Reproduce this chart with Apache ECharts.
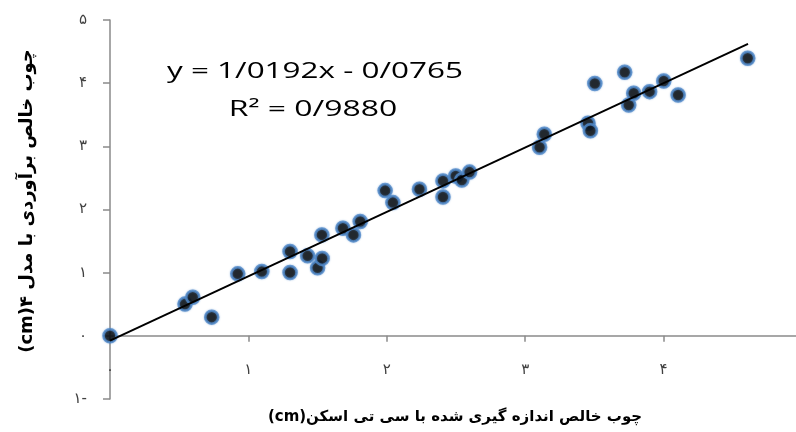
<!DOCTYPE html>
<html>
<head>
<meta charset="utf-8">
<script src="https://cdn.jsdelivr.net/npm/echarts@6/dist/echarts.min.js"></script>
<style>html,body{margin:0;padding:0;background:#fff}#c{width:796px;height:432px}</style>
</head>
<body>
<div id="c"></div>
<script>
// Measured (CT scan) net wood, cm
const measuredX = [0, 0.542, 0.598, 0.735, 0.923, 1.097, 1.301, 1.301, 1.428, 1.500, 1.531, 1.533, 1.683, 1.759, 1.808, 1.988, 2.044, 2.236, 2.406, 2.406, 2.498, 2.542, 2.598, 3.104, 3.138, 3.454, 3.471, 3.503, 3.719, 3.748, 3.784, 3.899, 4.001, 4.105, 4.608];
// Estimated net wood with model 4, cm
const predictedY = [0, 0.502, 0.612, 0.296, 0.981, 1.017, 1.002, 1.334, 1.266, 1.076, 1.598, 1.226, 1.704, 1.598, 1.809, 2.299, 2.109, 2.321, 2.453, 2.199, 2.532, 2.468, 2.592, 2.986, 3.191, 3.366, 3.248, 3.995, 4.172, 3.655, 3.840, 3.866, 4.035, 3.813, 4.394];
// Trendline end points
const trendX = [0, 4.61];
const trendY = [-0.077, 4.622];
// Tick labels
const xTickValues = [0, 1, 2, 3, 4, 5];
const xTickLabels = ['۰', '۱', '۲', '۳', '۴', '۵'];
const yTickValues = [-1, 0, 1, 2, 3, 4, 5];
const yTickLabels = ['۱-', '۰', '۱', '۲', '۳', '۴', '۵'];
// Texts
const equationText = 'y = 1/0192x - 0/0765';
const r2Text = 'R² = 0/9880';
const xTitle = 'چوب خالص اندازه گیری شده با سی تی اسکن(cm)';
const yTitle = 'چوب خالص برآوردی با مدل ۴(cm)';

const scatterData = measuredX.map((x, i) => [x, predictedY[i]]);
const trendData = trendX.map((x, i) => [x, trendY[i]]);
function lab(vals, labels) { return v => { const i = vals.findIndex(t => Math.abs(t - v) < 1e-6); return i >= 0 ? labels[i] : ''; }; }

const axisGrey = '#8a8a8a';
const chart = echarts.init(document.getElementById('c'), null, {renderer: 'canvas'});
chart.setOption({
  animation: false,
  backgroundColor: '#fff',
  grid: {left: 110, right: -6, top: 20, bottom: 33, containLabel: false, outerBoundsMode: 'none'},
  xAxis: {
    type: 'value', min: 0, max: 5, interval: 1,
    axisLine: {show: true, onZero: true, lineStyle: {color: axisGrey, width: 1.5}},
    axisTick: {show: true, length: 6, lineStyle: {color: axisGrey, width: 1.5}},
    axisLabel: {formatter: lab(xTickValues, xTickLabels), margin: -36, fontSize: 15, color: '#404040', fontFamily: 'DejaVu Sans', showMaxLabel: false},
    splitLine: {show: false}
  },
  yAxis: {
    type: 'value', min: -1, max: 5, interval: 1,
    axisLine: {show: true, onZero: false, lineStyle: {color: axisGrey, width: 1.5}},
    axisTick: {show: true, length: 7, lineStyle: {color: axisGrey, width: 1.5}},
    axisLabel: {formatter: lab(yTickValues, yTickLabels), margin: 23, fontSize: 15, color: '#404040', fontFamily: 'DejaVu Sans'},
    splitLine: {show: false}
  },
  series: [
    {
      type: 'scatter', data: scatterData, symbol: 'circle', symbolSize: 13, z: 2,
      itemStyle: {color: '#000', borderColor: '#5088c8', borderWidth: 2.5, shadowColor: 'rgba(80,136,200,0.6)', shadowBlur: 2}
    },
    {
      type: 'line', data: trendData, showSymbol: false, symbol: 'none', z: 3,
      lineStyle: {color: '#000', width: 2}
    }
  ],
  graphic: [
    {type: 'text', x: 315, y: 72, scaleX: 1.43, z: 10,
     style: {text: equationText, fontSize: 22, fontFamily: 'Open Sans', fill: '#000', align: 'center', verticalAlign: 'middle', textAlign: 'center', textVerticalAlign: 'middle'}},
    {type: 'text', x: 313, y: 110, scaleX: 1.45, z: 10,
     style: {text: r2Text, fontSize: 22, fontFamily: 'Open Sans', fill: '#000', align: 'center', verticalAlign: 'middle', textAlign: 'center', textVerticalAlign: 'middle'}},
    {type: 'text', x: 455, y: 417, scaleX: 1.0, z: 10,
     style: {text: '\u202B' + xTitle + '\u202C', fontSize: 15, fontWeight: 'bold', fontFamily: 'DejaVu Sans', fill: '#000', align: 'center', verticalAlign: 'middle', textAlign: 'center', textVerticalAlign: 'middle'}},
    {type: 'text', x: 27, y: 201, rotation: Math.PI / 2, z: 10,
     style: {text: '\u202B' + yTitle + '\u202C', fontSize: 18, fontWeight: 'bold', fontFamily: 'DejaVu Sans', fill: '#000', align: 'center', verticalAlign: 'middle', textAlign: 'center', textVerticalAlign: 'middle'}}
  ]
});
</script>
</body>
</html>
